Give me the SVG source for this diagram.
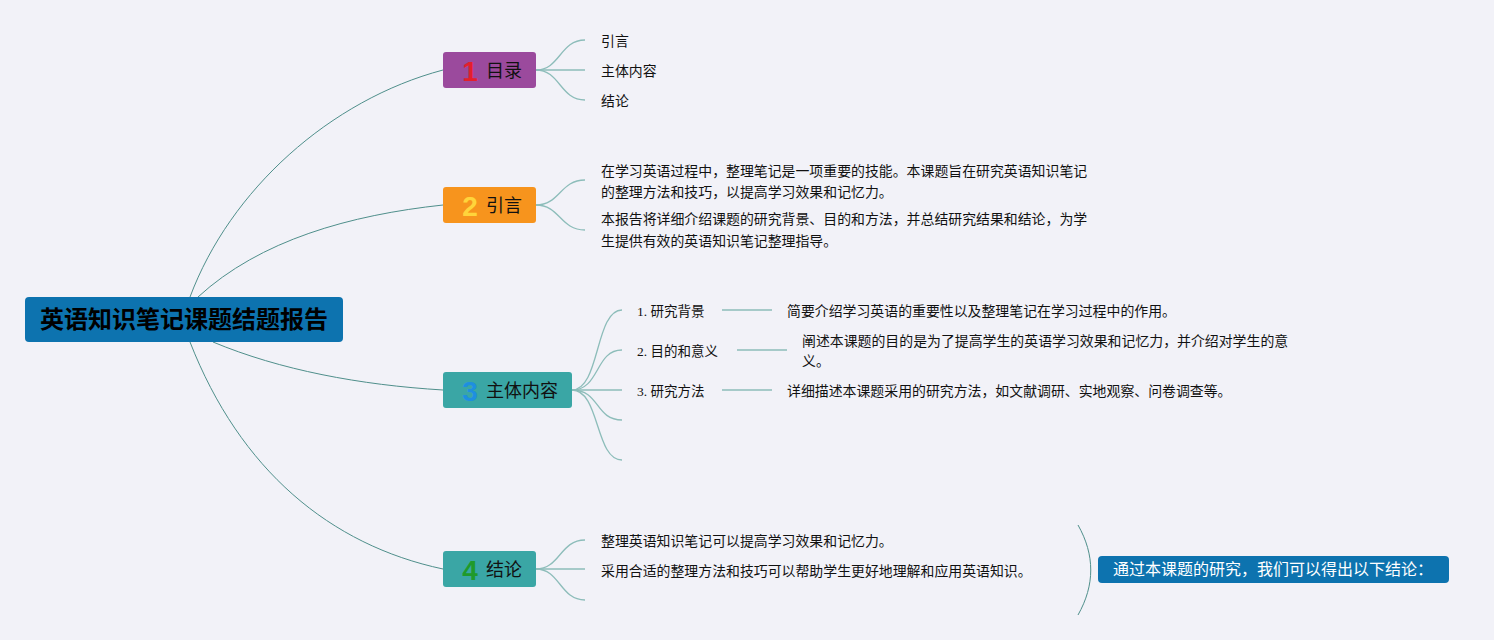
<svg xmlns="http://www.w3.org/2000/svg" width="1494" height="640" viewBox="0 0 1494 640">
<style>
text{font-family:"Noto Sans CJK SC","Noto Sans",sans-serif;}
.main{stroke:#4F8F8B;stroke-width:1;fill:none;}
.sub{stroke:#8DBDBA;stroke-width:1.3;fill:none;}
.t{font-size:13.9px;fill:#111;}
.bt{font-size:18px;fill:#111;}
.num{font-size:28px;font-weight:bold;font-family:"Liberation Sans Narrow","Liberation Sans",sans-serif;}
.lbl{font-size:13.5px;fill:#111;font-family:"Liberation Serif","Noto Sans CJK SC",serif;}
</style>
<rect width="1494" height="640" fill="#F2F2F8"/>
<g id="connectors">
<path class="main" d="M190,297 C230,190 330,100 443,70"/>
<path class="main" d="M198,297 C260,240 350,215 443,205"/>
<path class="main" d="M213,342 C280,370 360,385 443,390"/>
<path class="main" d="M190,342 C240,470 330,545 443,569"/>
<path class="sub" d="M536,70 C560,70 560,40 585,40"/>
<path class="sub" d="M536,70 L585,70"/>
<path class="sub" d="M536,70 C560,70 560,100 585,100"/>
<path class="sub" d="M536,205 C560,205 560,180 585,180"/>
<path class="sub" d="M536,205 C560,205 560,230 585,230"/>
<path class="sub" d="M572,390 C600,390 595,310 622,310"/>
<path class="sub" d="M572,390 C600,390 595,350 622,350"/>
<path class="sub" d="M572,390 L622,390"/>
<path class="sub" d="M572,390 C600,390 595,420 622,420"/>
<path class="sub" d="M572,390 C600,390 595,460 622,460"/>
<path class="sub" d="M722,310 L772,310"/>
<path class="sub" d="M737,350 L787,350"/>
<path class="sub" d="M722,390 L772,390"/>
<path class="sub" d="M536,569 C560,569 560,540 585,540"/>
<path class="sub" d="M536,569 L585,569"/>
<path class="sub" d="M536,569 C560,569 560,600 585,600"/>
<path class="main" d="M1078,525 C1095,555 1095,585 1078,615"/>
</g>
<g id="root">
<rect x="25" y="297" width="318" height="45" rx="4" fill="#0D73AF"/>
<text x="184" y="328" text-anchor="middle" font-size="24" font-weight="bold" fill="#000">英语知识笔记课题结题报告</text>
</g>
<g id="b1">
<rect x="443" y="52" width="93" height="36" rx="3" fill="#9B4A9D"/>
<text x="470" y="81" class="num" text-anchor="middle" fill="#E3202C">1</text>
<text x="486" y="77" class="bt">目录</text>
</g>
<g id="b1c1"><text x="601" y="46" class="t">引言</text></g>
<g id="b1c2"><text x="601" y="76" class="t">主体内容</text></g>
<g id="b1c3"><text x="601" y="106" class="t">结论</text></g>
<g id="b2">
<rect x="443" y="187" width="93" height="36" rx="3" fill="#F7941D"/>
<text x="470" y="216" class="num" text-anchor="middle" fill="#FFD43B">2</text>
<text x="486" y="212" class="bt">引言</text>
</g>
<g id="b2c1">
<text x="601" y="176" class="t">在学习英语过程中，整理笔记是一项重要的技能。本课题旨在研究英语知识笔记</text>
<text x="601" y="197" class="t">的整理方法和技巧，以提高学习效果和记忆力。</text>
</g>
<g id="b2c2">
<text x="601" y="224" class="t">本报告将详细介绍课题的研究背景、目的和方法，并总结研究结果和结论，为学</text>
<text x="601" y="246" class="t">生提供有效的英语知识笔记整理指导。</text>
</g>
<g id="b3">
<rect x="443" y="372" width="129" height="36" rx="3" fill="#3AA6A5"/>
<text x="470" y="401" class="num" text-anchor="middle" fill="#1E8FE0">3</text>
<text x="486" y="397" class="bt">主体内容</text>
</g>
<g id="b3c1">
<text x="637" y="316" class="lbl">1. 研究背景</text>
<text x="787" y="316" class="t">简要介绍学习英语的重要性以及整理笔记在学习过程中的作用。</text>
</g>
<g id="b3c2">
<text x="637" y="356" class="lbl">2. 目的和意义</text>
<text x="802" y="346" class="t">阐述本课题的目的是为了提高学生的英语学习效果和记忆力，并介绍对学生的意</text>
<text x="802" y="366" class="t">义。</text>
</g>
<g id="b3c3">
<text x="637" y="396" class="lbl">3. 研究方法</text>
<text x="787" y="396" class="t">详细描述本课题采用的研究方法，如文献调研、实地观察、问卷调查等。</text>
</g>
<g id="b4">
<rect x="443" y="551" width="93" height="36" rx="3" fill="#3AA6A5"/>
<text x="470" y="580" class="num" text-anchor="middle" fill="#1F9A2A">4</text>
<text x="486" y="576" class="bt">结论</text>
</g>
<g id="b4c1"><text x="601" y="546" class="t">整理英语知识笔记可以提高学习效果和记忆力。</text></g>
<g id="b4c2"><text x="601" y="576" class="t">采用合适的整理方法和技巧可以帮助学生更好地理解和应用英语知识。</text></g>
<g id="summary">
<rect x="1098" y="556" width="351" height="27" rx="4" fill="#0D73AF"/>
<text x="1273" y="575" text-anchor="middle" font-size="16" fill="#fff">通过本课题的研究，我们可以得出以下结论：</text>
</g>
</svg>
